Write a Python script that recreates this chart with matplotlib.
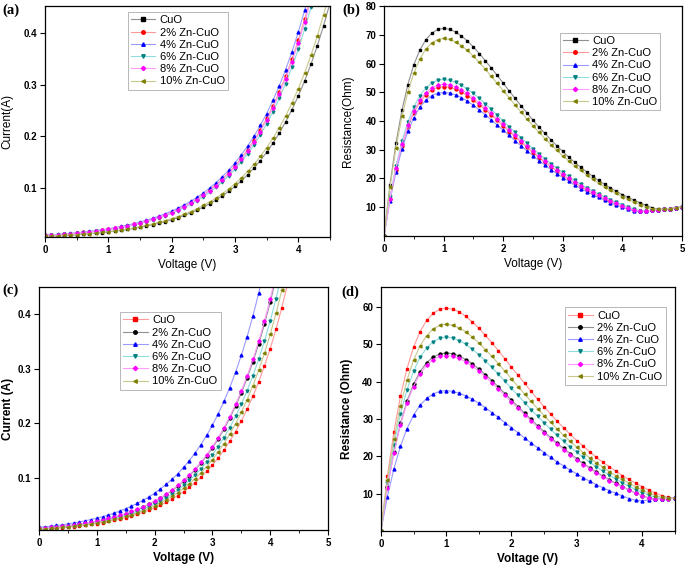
import numpy as np
import matplotlib
matplotlib.use("Agg")
import matplotlib.pyplot as plt

plt.rcParams["font.family"] = ["Liberation Sans", "DejaVu Sans"]

# =========================
# data (voltage steps of 0.1 V)
# =========================
volt = np.round(np.arange(0, 5.01, 0.1), 1)

names = ["CuO", "2% Zn-CuO", "4% Zn-CuO", "6% Zn-CuO", "8% Zn-CuO", "10% Zn-CuO"]
names_d = ["CuO", "2% Zn-CuO", "4% Zn- CuO", "6% Zn-CuO", "8% Zn-CuO", "10% Zn-CuO"]

# (a) current (A)
cur_a_cuo = [.0051, .0056, .0062, .0069, .0076, .0084, .0093, .0103, .0113, .0125, .0138, .0153, .0169, .0187, .0206,
             .0228, .0252, .0279, .0308, .0340, .0376, .0416, .0459, .0508, .0561, .0620, .0685, .0757, .0837, .0925,
             .1022, .1130, .1249, .1380, .1525, .1686, .1863, .2059, .2275, .2514, .2779, .3071, .3394, .3751, .4146, .4582]
cur_a_2 = [.0071, .0078, .0086, .0095, .0105, .0117, .0129, .0142, .0157, .0174, .0192, .0212, .0235, .0259, .0287,
           .0317, .0350, .0387, .0428, .0473, .0522, .0577, .0638, .0705, .0779, .0861, .0952, .1052, .1163, .1285,
           .1420, .1569, .1734, .1917, .2118, .2341, .2587, .2860, .3160, .3493, .3860, .4266, .4715]
cur_a_4 = [.0074, .0081, .0090, .0099, .0110, .0121, .0134, .0148, .0164, .0181, .0200, .0221, .0244, .0270, .0298,
           .0330, .0365, .0403, .0445, .0492, .0544, .0601, .0664, .0734, .0811, .0897, .0991, .1095, .1210, .1338,
           .1478, .1634, .1806, .1995, .2205, .2437, .2694, .2977, .3290, .3636, .4018, .4441, .4908]
cur_a_6 = [.0068, .0075, .0082, .0091, .0101, .0111, .0123, .0136, .0150, .0166, .0183, .0203, .0224, .0248, .0274,
           .0303, .0334, .0369, .0408, .0451, .0499, .0551, .0609, .0673, .0744, .0822, .0909, .1004, .1110, .1227,
           .1356, .1498, .1656, .1830, .2022, .2235, .2470, .2730, .3017, .3335, .3685, .4073, .4501, .4975]
cur_a_8 = [.0070, .0077, .0085, .0094, .0104, .0115, .0127, .0140, .0155, .0171, .0189, .0209, .0231, .0256, .0283,
           .0312, .0345, .0382, .0422, .0466, .0515, .0569, .0629, .0695, .0768, .0849, .0938, .1037, .1146, .1267,
           .1400, .1547, .1710, .1890, .2088, .2308, .2551, .2819, .3116, .3443, .3806, .4206, .4648]
cur_a_10 = [.0054, .0059, .0065, .0072, .0080, .0088, .0097, .0108, .0119, .0132, .0145, .0161, .0178, .0196, .0217,
            .0240, .0265, .0293, .0324, .0358, .0395, .0437, .0483, .0534, .0590, .0652, .0720, .0796, .0880, .0972,
            .1075, .1188, .1312, .1450, .1603, .1772, .1958, .2164, .2391, .2643, .2921, .3228, .3568, .3943, .4358, .4816]

# (b) resistance (Ohm)
res_b_cuo = [0, 17.8, 32.2, 43.7, 52.7, 59.6, 64.7, 68.3, 70.6, 71.9, 72.3, 72.0, 71.0, 69.6, 67.9, 65.8, 63.5, 61.0,
             58.5, 55.9, 53.2, 50.5, 47.9, 45.3, 42.8, 40.3, 37.9, 35.7, 33.5, 31.4, 29.4, 27.4, 25.6, 23.9, 22.3, 20.8,
             19.3, 18.0, 16.7, 15.5, 14.4, 13.4, 12.4, 11.5, 10.6, 9.8, 9.2, 9.3, 9.5, 9.8, 10.0]
res_b_2 = [0, 12.8, 23.1, 31.4, 37.9, 42.9, 46.5, 49.1, 50.8, 51.7, 52.0, 51.8, 51.1, 50.1, 48.8, 47.3, 45.7, 43.9,
           42.1, 40.2, 38.3, 36.3, 34.5, 32.6, 30.8, 29.0, 27.3, 25.6, 24.1, 22.6, 21.1, 19.7, 18.4, 17.2, 16.0, 14.9,
           13.9, 12.9, 12.0, 11.2, 10.4, 9.6, 8.9, 8.6, 8.7, 8.9, 9.1, 9.3, 9.5, 9.8, 10.0]
res_b_4 = [0, 12.3, 22.3, 30.2, 36.4, 41.2, 44.8, 47.2, 48.9, 49.7, 50.0, 49.8, 49.1, 48.2, 46.9, 45.5, 43.9, 42.2,
           40.4, 38.6, 36.8, 35.0, 33.1, 31.3, 29.6, 27.9, 26.2, 24.7, 23.1, 21.7, 20.3, 19.0, 17.7, 16.5, 15.4, 14.4,
           13.4, 12.4, 11.6, 10.7, 10.0, 9.2, 8.6, 8.5, 8.7, 8.9, 9.1, 9.3, 9.5, 9.8, 10.0]
res_b_6 = [0, 13.4, 24.3, 32.9, 39.7, 44.9, 48.8, 51.5, 53.3, 54.2, 54.5, 54.2, 53.5, 52.5, 51.1, 49.6, 47.9, 46.0,
           44.1, 42.1, 40.1, 38.1, 36.1, 34.2, 32.3, 30.4, 28.6, 26.9, 25.2, 23.6, 22.1, 20.7, 19.3, 18.0, 16.8, 15.7,
           14.6, 13.6, 12.6, 11.7, 10.9, 10.1, 9.3, 8.7, 8.7, 8.9, 9.1, 9.3, 9.5, 9.8, 10.0]
res_b_8 = [0, 13.0, 23.5, 31.9, 38.5, 43.5, 47.3, 49.9, 51.6, 52.5, 52.8, 52.6, 51.9, 50.9, 49.6, 48.0, 46.4, 44.6,
           42.7, 40.8, 38.9, 36.9, 35.0, 33.1, 31.2, 29.5, 27.7, 26.0, 24.4, 22.9, 21.4, 20.0, 18.7, 17.5, 16.3, 15.2,
           14.1, 13.1, 12.2, 11.3, 10.5, 9.8, 9.0, 8.6, 8.7, 8.9, 9.1, 9.3, 9.5, 9.8, 10.0]
res_b_10 = [0, 16.9, 30.6, 41.6, 50.1, 56.7, 61.6, 65.0, 67.2, 68.4, 68.8, 68.5, 67.6, 66.3, 64.6, 62.6, 60.4, 58.1,
            55.6, 53.1, 50.6, 48.1, 45.6, 43.1, 40.7, 38.4, 36.1, 33.9, 31.8, 29.8, 27.9, 26.1, 24.4, 22.8, 21.2, 19.8,
            18.4, 17.1, 15.9, 14.8, 13.7, 12.7, 11.8, 10.9, 10.1, 9.4, 9.2, 9.3, 9.5, 9.8, 10.0]

# (c) current (A)
cur_c_cuo = [.0062, .0068, .0075, .0083, .0092, .0102, .0112, .0124, .0137, .0152, .0168, .0185, .0205, .0226, .0250,
             .0276, .0305, .0337, .0373, .0412, .0455, .0503, .0556, .0615, .0679, .0751, .0830, .0917, .1014, .1120,
             .1238, .1368, .1512, .1671, .1847, .2041, .2256, .2493, .2755, .3045, .3365, .3719, .4110, .4542, .5020]
cur_c_2 = [.0077, .0085, .0094, .0104, .0115, .0127, .0141, .0155, .0172, .0190, .0210, .0232, .0256, .0283, .0313,
           .0346, .0382, .0422, .0467, .0516, .0570, .0630, .0696, .0769, .0850, .0940, .1038, .1148, .1268, .1402,
           .1549, .1712, .1892, .2091, .2311, .2554, .2823, .3120, .3448, .3810, .4211, .4654]
cur_c_4 = [.0098, .0108, .0120, .0132, .0146, .0161, .0178, .0197, .0218, .0241, .0266, .0294, .0325, .0359, .0397,
           .0439, .0485, .0536, .0592, .0654, .0723, .0799, .0883, .0976, .1079, .1192, .1317, .1456, .1609, .1778,
           .1965, .2172, .2401, .2653, .2932, .3240, .3581, .3958, .4374, .4834]
cur_c_6 = [.0071, .0078, .0087, .0096, .0106, .0117, .0129, .0143, .0158, .0174, .0193, .0213, .0235, .0260, .0287,
           .0318, .0351, .0388, .0429, .0474, .0524, .0579, .0640, .0707, .0781, .0864, .0954, .1055, .1166, .1288,
           .1424, .1574, .1739, .1922, .2124, .2348, .2594, .2867, .3169, .3502, .3870, .4277, .4727]
cur_c_8 = [.0078, .0087, .0096, .0106, .0117, .0129, .0143, .0158, .0174, .0193, .0213, .0235, .0260, .0287, .0317,
           .0351, .0388, .0429, .0474, .0523, .0578, .0639, .0706, .0781, .0863, .0954, .1054, .1165, .1287, .1423,
           .1572, .1738, .1920, .2122, .2345, .2592, .2865, .3166, .3499, .3867, .4274, .4723]
cur_c_10 = [.0066, .0073, .0081, .0090, .0099, .0109, .0121, .0134, .0148, .0163, .0181, .0200, .0220, .0244, .0269,
            .0298, .0329, .0364, .0402, .0444, .0491, .0542, .0599, .0662, .0732, .0809, .0894, .0988, .1092, .1207,
            .1334, .1474, .1629, .1800, .1990, .2199, .2431, .2686, .2969, .3281, .3626, .4007, .4429, .4894]

# (d) resistance (Ohm)
res_d_cuo = [0, 14.7, 26.6, 36.1, 43.5, 49.2, 53.4, 56.4, 58.3, 59.4, 59.7, 59.4, 58.7, 57.5, 56.0, 54.3, 52.4, 50.4,
             48.3, 46.1, 43.9, 41.7, 39.6, 37.4, 35.3, 33.3, 31.3, 29.4, 27.6, 25.9, 24.2, 22.7, 21.2, 19.7, 18.4, 17.2,
             16.0, 14.8, 13.8, 12.8, 11.9, 11.0, 10.2, 9.5, 9.0, 8.8]
res_d_2 = [0, 11.7, 21.2, 28.8, 34.8, 39.3, 42.7, 45.1, 46.6, 47.4, 47.7, 47.5, 46.9, 45.9, 44.8, 43.4, 41.9, 40.3,
           38.6, 36.8, 35.1, 33.3, 31.6, 29.9, 28.2, 26.6, 25.0, 23.5, 22.1, 20.7, 19.4, 18.1, 16.9, 15.8, 14.7, 13.7,
           12.8, 11.9, 11.0, 10.2, 9.5, 8.9, 8.6, 8.6, 8.7, 8.8]
res_d_4 = [0, 9.2, 16.7, 22.7, 27.4, 31.0, 33.7, 35.5, 36.7, 37.4, 37.6, 37.4, 36.9, 36.2, 35.3, 34.2, 33.0, 31.7,
           30.4, 29.0, 27.7, 26.3, 24.9, 23.6, 22.3, 21.0, 19.7, 18.5, 17.4, 16.3, 15.3, 14.3, 13.3, 12.4, 11.6, 10.8,
           10.1, 9.4, 8.7, 8.2, 8.1, 8.3, 8.5, 8.7, 8.8, 8.8]
res_d_6 = [0, 12.8, 23.1, 31.4, 37.8, 42.8, 46.5, 49.0, 50.7, 51.6, 51.9, 51.7, 51.0, 50.0, 48.7, 47.2, 45.6, 43.8,
           42.0, 40.1, 38.2, 36.3, 34.4, 32.5, 30.7, 29.0, 27.2, 25.6, 24.0, 22.5, 21.1, 19.7, 18.4, 17.2, 16.0, 14.9,
           13.9, 12.9, 12.0, 11.1, 10.3, 9.6, 9.0, 8.7, 8.7, 8.8]
res_d_8 = [0, 11.6, 20.9, 28.4, 34.3, 38.7, 42.1, 44.4, 45.9, 46.8, 47.0, 46.8, 46.2, 45.3, 44.1, 42.8, 41.3, 39.7,
           38.0, 36.3, 34.6, 32.9, 31.1, 29.5, 27.8, 26.2, 24.7, 23.2, 21.8, 20.4, 19.1, 17.8, 16.7, 15.5, 14.5, 13.5,
           12.6, 11.7, 10.9, 10.1, 9.4, 8.8, 8.5, 8.5, 8.7, 8.8]
res_d_10 = [0, 13.6, 24.7, 33.5, 40.4, 45.7, 49.6, 52.3, 54.1, 55.1, 55.4, 55.1, 54.4, 53.4, 52.0, 50.4, 48.6, 46.8,
            44.8, 42.8, 40.8, 38.7, 36.7, 34.7, 32.8, 30.9, 29.1, 27.3, 25.6, 24.0, 22.5, 21.0, 19.6, 18.3, 17.1, 15.9,
            14.8, 13.8, 12.8, 11.9, 11.0, 10.2, 9.5, 9.0, 8.8, 8.8]

# =========================
# styles
# =========================
markers = ["s", "o", "^", "v", "D", "<"]
cols_ab = ["#000000", "#ff0000", "#0000ff", "#008080", "#ff00ff", "#808000"]
line_ab = ["#909090", "#ff9a9a", "#9a9aff", "#8fdcdc", "#ff9aff", "#c8c88c"]
cols_cd = ["#ff0000", "#000000", "#0000ff", "#008080", "#ff00ff", "#808000"]
line_cd = ["#ff9a9a", "#909090", "#9a9aff", "#8fdcdc", "#ff9aff", "#c8c88c"]


def draw(ax, series, labels, cols, lines):
    for i, y in enumerate(series):
        ax.plot(volt[:len(y)], y, "-", color=lines[i], lw=0.8, marker=markers[i],
                ms=2.1 if markers[i] != "D" else 1.8, mfc=cols[i], mec=cols[i], label=labels[i])


def style(ax, bold, xmax, xticks, ylim, yticks, yfmt, xlabel, ylabel, leg_anchor, ylab_x):
    w = "bold" if bold else "normal"
    ax.set_xlim(0, xmax)
    ax.set_ylim(*ylim)
    ax.set_xticks(xticks)
    ax.set_xticks(np.arange(0, xmax + 0.01, 0.5), minor=True)
    ax.set_yticks(yticks)
    ax.set_xticklabels([str(t) for t in xticks], fontsize=7, fontweight="bold")
    ax.set_yticklabels([yfmt.format(t) for t in yticks], fontsize=7, fontweight="bold")
    ax.tick_params(which="major", direction="out", length=3.5, width=0.8, pad=2)
    ax.tick_params(which="minor", direction="out", length=2, width=0.6)
    ax.set_xlabel(xlabel, fontsize=8.5, fontweight=w, labelpad=3)
    ax.set_ylabel(ylabel, fontsize=8.5, fontweight=w)
    ax.yaxis.set_label_coords(ylab_x, 0.5)
    for s in ax.spines.values():
        s.set_linewidth(0.9)
    leg = ax.legend(loc="upper left", bbox_to_anchor=leg_anchor, fontsize=8, frameon=True,
                    fancybox=False, edgecolor="#999999", handlelength=2.2, handletextpad=0.4,
                    labelspacing=0.2, borderpad=0.3, numpoints=1, borderaxespad=0, markerscale=1.2)
    leg.get_frame().set_linewidth(0.6)


fig = plt.figure(figsize=(6.85, 5.67), dpi=100)

ax_a = fig.add_axes([0.0657, 0.582, 0.416, 0.407])
ax_b = fig.add_axes([0.5606, 0.584, 0.435, 0.405])
ax_c = fig.add_axes([0.0569, 0.0653, 0.422, 0.4286])
ax_d = fig.add_axes([0.556, 0.0635, 0.429, 0.430])

draw(ax_a, [cur_a_cuo, cur_a_2, cur_a_4, cur_a_6, cur_a_8, cur_a_10], names, cols_ab, line_ab)
style(ax_a, False, 4.5, [0, 1, 2, 3, 4], (0.004, 0.452), [0.1, 0.2, 0.3, 0.4], "{:.1f}",
      "Voltage (V)", "Current(A)", (0.29, 0.975), -0.11)

draw(ax_b, [res_b_cuo, res_b_2, res_b_4, res_b_6, res_b_8, res_b_10], names, cols_ab, line_ab)
style(ax_b, False, 5, [0, 1, 2, 3, 4, 5], (0, 80), [10, 20, 30, 40, 50, 60, 70, 80], "{:d}",
      "Voltage (V)", "Resistance(Ohm)", (0.59, 0.885), -0.1)

draw(ax_c, [cur_c_cuo, cur_c_2, cur_c_4, cur_c_6, cur_c_8, cur_c_10], names, cols_cd, line_cd)
style(ax_c, True, 5, [0, 1, 2, 3, 4, 5], (0.005, 0.449), [0.1, 0.2, 0.3, 0.4], "{:.1f}",
      "Voltage (V)", "Current (A)", (0.28, 0.897), -0.085)

draw(ax_d, [res_d_cuo, res_d_2, res_d_4, res_d_6, res_d_8, res_d_10], names_d, cols_cd, line_cd)
style(ax_d, True, 4.5, [0, 1, 2, 3, 4], (0, 65.3), [10, 20, 30, 40, 50, 60], "{:d}",
      "Voltage (V)", "Resistance (Ohm)", (0.626, 0.918), -0.095)

# panel tags
for tag, x, y in [("(a)", 0.004, 0.993), ("(b)", 0.500, 0.993), ("(c)", 0.004, 0.500), ("(d)", 0.499, 0.497)]:
    fig.text(x, y, tag, fontsize=10.5, fontweight="bold", family=["Liberation Serif", "DejaVu Serif"],
             va="top", ha="left")

fig.savefig("out.png", dpi=100)
